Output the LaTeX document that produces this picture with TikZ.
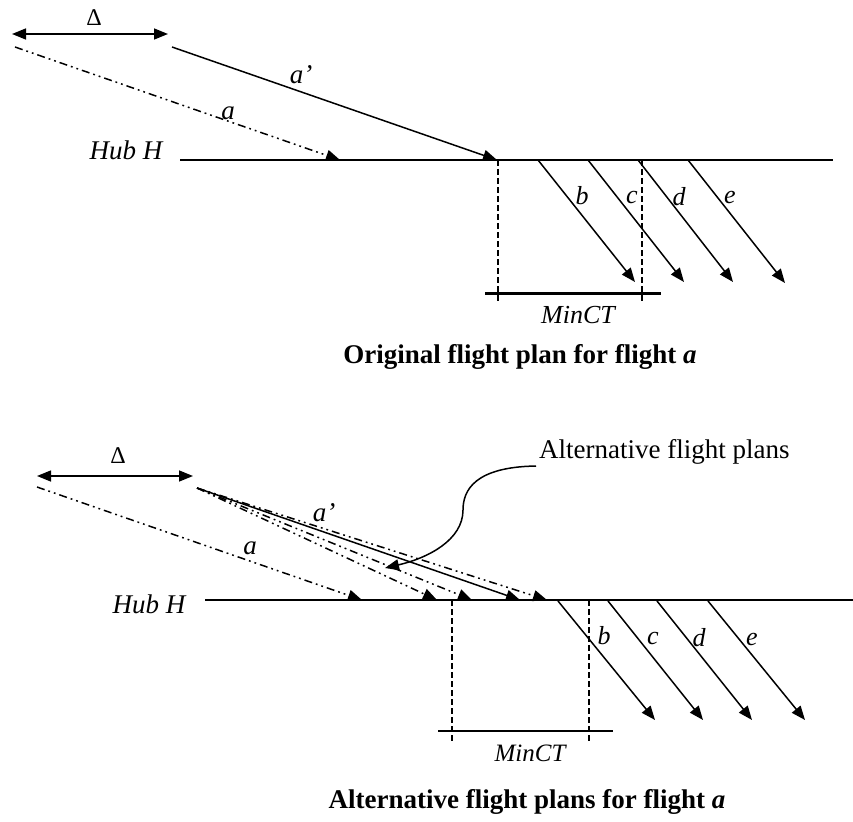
\documentclass[tikz,border=0pt]{standalone}
\usepackage{fontspec}
\setmainfont{Liberation Serif}
\usetikzlibrary{arrows.meta}
\begin{document}
\begin{tikzpicture}[x=1pt,y=-1pt,
  ln/.style={line width=1.5pt},
  tip/.style={-{Triangle[length=14pt,width=11pt]}},
  both/.style={{Triangle[length=14pt,width=11pt]}-{Triangle[length=14pt,width=11pt]}},
  ddot/.style={dash pattern=on 8pt off 4pt on 1.8pt off 4pt on 1.8pt off 4pt},
  vdash/.style={line width=1.5pt,dash pattern=on 6pt off 3pt},
  lab/.style={font=\fontsize{27}{30}\selectfont\itshape, inner sep=0pt},
  sm/.style={font=\fontsize{26}{30}\selectfont\itshape, inner sep=0pt},
  dlt/.style={font=\fontsize{24}{28}\selectfont, inner sep=0pt},
  ttl/.style={font=\fontsize{27}{30}\selectfont\bfseries, inner sep=0pt},
  note/.style={font=\fontsize{27}{30}\selectfont, inner sep=0pt}]
\useasboundingbox (0,0) rectangle (853,821);

% ---------------- top diagram ----------------
\coordinate (dl1) at (12,34);
\coordinate (dr1) at (168,34);
\draw[ln,both] (dl1) -- (dr1);
\node[dlt] (D1) at (94,18) {Δ};

\coordinate (as1) at (15,47);
\coordinate (ae1) at (340,160);
\draw[ln,ddot,tip] (as1) -- (ae1);
\node[lab] (la1) at (228,113) {a};

\coordinate (ps1) at (172,47);
\coordinate (pe1) at (497,160);
\draw[ln,tip] (ps1) -- (pe1);
\node[lab] (lp1) at (301,75) {a’};

\node[lab] (hub1) at (126,150) {Hub H};
\coordinate (h1s) at (180,160);
\coordinate (h1e) at (833,160);
\draw[ln] (h1s) -- (h1e);

\coordinate (v1a) at (498,160); \coordinate (v1b) at (498,303);
\coordinate (v2a) at (642,160); \coordinate (v2b) at (642,303);
\draw[vdash] (v1a) -- (v1b);
\draw[vdash] (v2a) -- (v2b);
\coordinate (m1s) at (485,293); \coordinate (m1e) at (661,293);
\draw[line width=3pt] (m1s) -- (m1e);
\node[lab,font=\fontsize{26}{30}\selectfont\itshape] (mct1) at (578,315) {MinCT};

\coordinate (b1s) at (538,160); \coordinate (b1e) at (635,282);
\coordinate (c1s) at (588,160); \coordinate (c1e) at (684,282);
\coordinate (d1s) at (638,160); \coordinate (d1e) at (733,282);
\coordinate (e1s) at (688,160); \coordinate (e1e) at (785,283);
\draw[ln,tip] (b1s) -- (b1e);
\draw[ln,tip] (c1s) -- (c1e);
\draw[ln,tip] (d1s) -- (d1e);
\draw[ln,tip] (e1s) -- (e1e);
\node[sm] (lb1) at (582,196) {b};
\node[sm] (lc1) at (632,198) {c};
\node[sm] (ld1) at (679,197) {d};
\node[sm] (le1) at (730,198) {e};

\node[ttl] (t1) at (520,357) {Original flight plan for flight \textit{a}};

% ---------------- bottom diagram ----------------
\coordinate (dl2) at (37,476);
\coordinate (dr2) at (193,476);
\draw[ln,both] (dl2) -- (dr2);
\node[dlt] (D2) at (118,456) {Δ};

\coordinate (as2) at (37,487);
\coordinate (ae2) at (362,600);
\draw[ln,ddot,tip] (as2) -- (ae2);
\node[lab] (la2) at (250,548) {a};

\coordinate (ps2) at (197,488);
\coordinate (pe2) at (520,600);
\coordinate (q1) at (437,600);
\coordinate (q2) at (472,600);
\coordinate (q3) at (547,600);
\draw[ln,ddot,tip] (ps2) -- (q1);
\draw[ln,ddot,tip] (ps2) -- (q2);
\draw[ln,ddot,tip] (ps2) -- (q3);
\draw[ln,tip] (ps2) -- (pe2);
\node[lab] (lp2) at (324,513) {a’};

\node[lab] (hub2) at (149,604) {Hub H};
\coordinate (h2s) at (205,600);
\coordinate (h2e) at (853,600);
\draw[ln] (h2s) -- (h2e);

\coordinate (w1a) at (452,600); \coordinate (w1b) at (452,741);
\coordinate (w2a) at (589,600); \coordinate (w2b) at (589,741);
\draw[vdash] (w1a) -- (w1b);
\draw[vdash] (w2a) -- (w2b);
\coordinate (m2s) at (438,731); \coordinate (m2e) at (613,731);
\draw[ln] (m2s) -- (m2e);
\node[lab,font=\fontsize{25}{30}\selectfont\itshape] (mct2) at (530,753) {MinCT};

\coordinate (b2s) at (558,601); \coordinate (b2e) at (655,720);
\coordinate (c2s) at (608,601); \coordinate (c2e) at (703,720);
\coordinate (d2s) at (657,601); \coordinate (d2e) at (752,720);
\coordinate (e2s) at (708,601); \coordinate (e2e) at (805,720);
\draw[ln,tip] (b2s) -- (b2e);
\draw[ln,tip] (c2s) -- (c2e);
\draw[ln,tip] (d2s) -- (d2e);
\draw[ln,tip] (e2s) -- (e2e);
\node[sm] (lb2) at (604,636) {b};
\node[sm] (lc2) at (653,638) {c};
\node[sm] (ld2) at (699,638) {d};
\node[sm] (le2) at (752,639) {e};

\node[note,anchor=west] (alt) at (539,452) {Alternative flight plans};
\coordinate (cs) at (536,466);
\coordinate (ct) at (385,568);
\draw[ln,tip] (cs) .. controls (475,467) and (463,490) .. (463,510)
  .. controls (463,540) and (428,558) .. (ct);

\node[ttl] (t2) at (527,802) {Alternative flight plans for flight \textit{a}};
\end{tikzpicture}
\end{document}
